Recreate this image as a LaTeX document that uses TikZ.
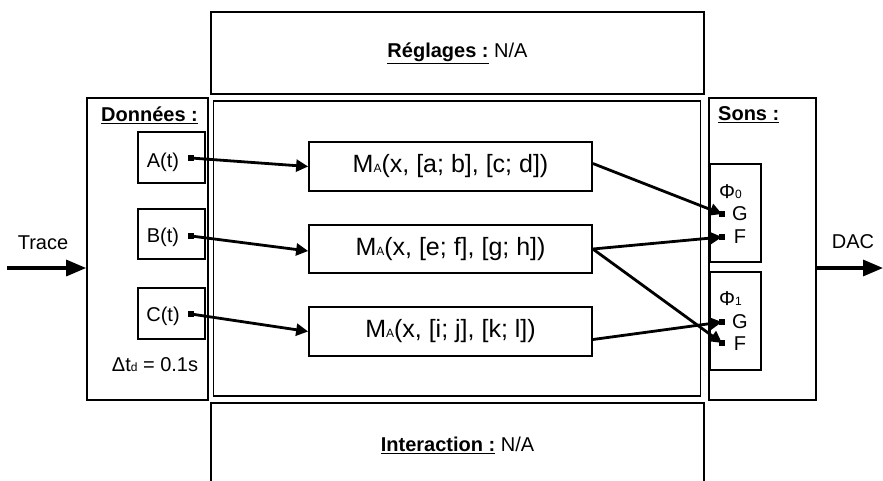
\documentclass[tikz,border=0pt]{standalone}
\usepackage{fontspec}
\setmainfont{Liberation Sans}
\usetikzlibrary{arrows.meta,calc}
\newcommand{\mysub}[1]{{\fontsize{12}{12}\selectfont #1}}
\begin{document}
\begin{tikzpicture}[x=1pt,y=-1pt,
  box/.style={draw,line width=1.7pt,inner sep=0pt},
  lbl/.style={font=\fontsize{20}{24}\selectfont,inner sep=0pt},
  mtxt/.style={font=\fontsize{25}{28}\selectfont},
  conn/.style={line width=2.8pt,-{Triangle[length=12pt,width=12pt]}},
  bigconn/.style={line width=3.2pt,-{Triangle[length=20pt,width=16pt]}},
  sqmark/.style={fill=black,minimum size=6pt,inner sep=0pt}]
\useasboundingbox (0,0) rectangle (883,480);
\fill[white] (0,0) rectangle (883,480);
% frames
\node[box,minimum width=493pt,minimum height=82pt] (reg) at (457.5,53) {};
\node[lbl] at (457.5,53) {\underline{\textbf{Réglages :}} N/A};
\node[box,minimum width=493pt,minimum height=79pt] (int) at (457.5,442.5) {};
\node[lbl] at (457.5,445) {\underline{\textbf{Interaction :}} N/A};
\node[box,minimum width=487pt,minimum height=295pt] (ctr) at (457,248.5) {};
\node[box,minimum width=121pt,minimum height=302pt] (don) at (147.5,249) {};
\node[box,minimum width=107pt,minimum height=302pt] (sons) at (762.5,249) {};
\node[lbl,anchor=west] at (101,115) {\underline{\textbf{Données :}}};
\node[lbl,anchor=west] at (718,115) {\underline{\textbf{Sons :}}};
% data boxes
\node[box,minimum width=67pt,minimum height=51pt] (A) at (171.5,157.5) {};
\node[box,minimum width=67pt,minimum height=50pt] (B) at (171.5,234) {};
\node[box,minimum width=67pt,minimum height=51pt] (C) at (171.5,313.5) {};
\node[lbl] at (163,162) {A(t)};
\node[lbl] at (163,237) {B(t)};
\node[lbl] at (163,316) {C(t)};
\node[lbl] at (155,365) {Δt\mysub{d} = 0.1s};
\node[sqmark] (ma) at (191,158) {};
\node[sqmark] (mb) at (191,236) {};
\node[sqmark] (mc) at (191,314) {};
% mapping boxes
\node[box,minimum width=283pt,minimum height=49pt,mtxt] (M1) at (450.5,166.5) {M\mysub{A}(x, [a; b], [c; d])};
\node[box,minimum width=283pt,minimum height=48pt,mtxt] (M2) at (450.5,249) {M\mysub{A}(x, [e; f], [g; h])};
\node[box,minimum width=283pt,minimum height=49pt,mtxt] (M3) at (450.5,331.5) {M\mysub{A}(x, [i; j], [k; l])};
% sound boxes
\node[box,minimum width=51pt,minimum height=98pt] (P0) at (735.5,213) {};
\node[box,minimum width=51pt,minimum height=98pt] (P1) at (735.5,321) {};
\node[lbl,anchor=west] at (719,192) {Φ\mysub{0}};
\node[lbl,anchor=west] at (719,299) {Φ\mysub{1}};
\node[lbl] at (740,214) {G};
\node[lbl] at (740,237) {F};
\node[lbl] at (740,322) {G};
\node[lbl] at (740,344) {F};
\node[sqmark] (g0) at (722,214) {};
\node[sqmark] (f0) at (722,237) {};
\node[sqmark] (g1) at (722,322) {};
\node[sqmark] (f1) at (722,343) {};
% connectors
\draw[conn] (ma.center) -- (M1.west);
\draw[conn] (mb.center) -- ([yshift=-2pt]M2.west);
\draw[conn] (mc.center) -- (M3.west);
\draw[conn] ([yshift=3pt]M1.east) -- (g0.center);
\draw[conn] (M2.east) -- (f0.center);
\draw[conn] (M2.east) -- (f1.center);
\draw[conn] ([yshift=-8pt]M3.east) -- (g1.center);
% in / out
\coordinate (tin) at (7,268);
\coordinate (dout) at (883,268);
\draw[bigconn] (tin) -- (tin -| don.west);
\draw[bigconn] (dout -| sons.east) -- (dout);
\node[lbl] at (43,243) {Trace};
\node[lbl] at (853,242) {DAC};
\end{tikzpicture}
\end{document}
